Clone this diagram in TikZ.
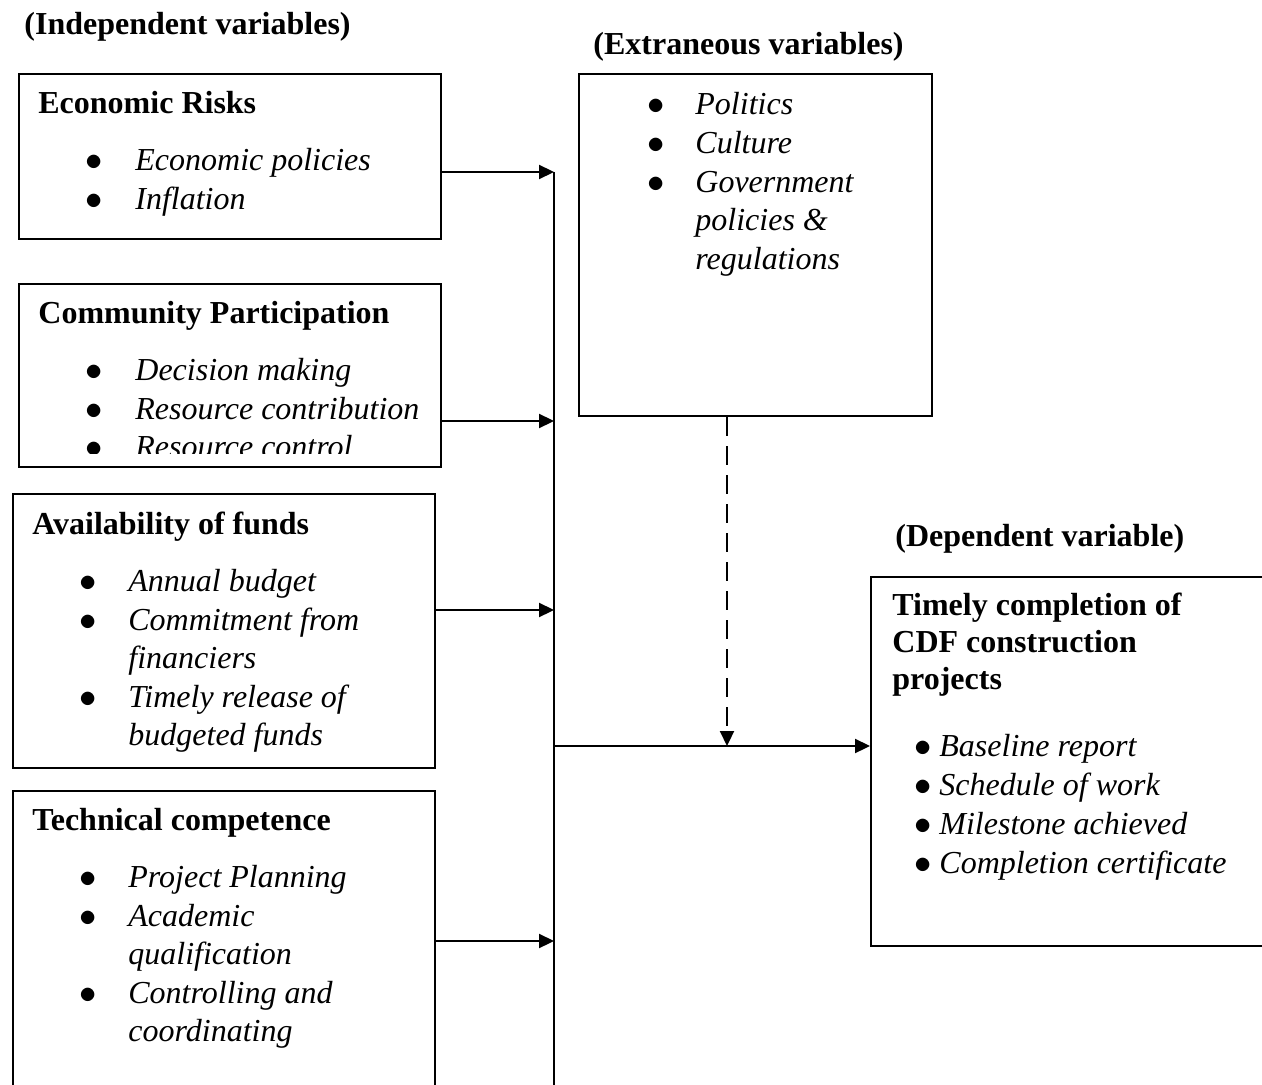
\documentclass[tikz,border=0pt]{standalone}
\usepackage{fontspec}
\setmainfont{Liberation Serif}
\usepackage{tikz}
\usetikzlibrary{arrows.meta,positioning}

\newcommand{\bul}[1][25pt]{\makebox[#1][l]{$\bullet$}}
\newcommand{\gap}[1][25pt]{\hspace*{#1}}

\begin{document}
\begin{tikzpicture}[x=0.5pt, y=-0.5pt,
  box/.style={draw, line width=1pt, inner sep=0, anchor=north west},
  head/.style={font=\fontsize{16}{19}\selectfont\bfseries, inner sep=0, anchor=base west},
  body/.style={font=\fontsize{16}{19.3}\selectfont\itshape, align=left, inner sep=0, anchor=north west},
  wire/.style={line width=1.1pt},
  link/.style={line width=1.1pt, -{Triangle[length=7.5pt,width=7pt]}}]
  \useasboundingbox (0,0) rectangle (1262,1085);
  \clip (0,0) rectangle (1262,1085);

  \node[head] (indlab) at (24,35) {(Independent variables)};
  \node[head] (extlab) at (593,55) {(Extraneous variables)};
  \node[head] (deplab) at (895,546) {(Dependent variable)};

  \node[box, minimum width=211pt, minimum height=82.5pt] (econ) at (18,73) {};
  \node[box, minimum width=211pt, minimum height=91.5pt] (comm) at (18,283) {};
  \node[box, minimum width=211pt, minimum height=137pt] (funds) at (12,493) {};
  \node[box, minimum width=211pt, minimum height=160pt] (tech) at (12,790) {};
  \node[box, minimum width=176.5pt, minimum height=171pt] (extr) at (578,73) {};
  \node[box, minimum width=210pt, minimum height=184.5pt] (dep) at (870,576) {};

  \node[head] (econtitle) at (38,114) {Economic Risks};
  \node[body] (econbody) at (85,143) {\strut\bul Economic policies\\ \bul Inflation};

  \node[head] (commtitle) at (38,323) {Community Participation};
  \begin{scope}
    \clip (comm.north west) rectangle ([yshift=7.5pt]comm.south east);
    \node[body] (commbody) at (85,353) {\strut\bul Decision making\\ \bul Resource contribution\\ \bul Resource control};
  \end{scope}

  \node[head] (fundstitle) at (32,534) {Availability of funds};
  \node[body] (fundsbody) at (79,564) {\strut\bul[24.5pt]Annual budget\\ \bul[24.5pt]Commitment from\\ \gap[24.5pt]financiers\\ \bul[24.5pt]Timely release of\\ \gap[24.5pt]budgeted funds};

  \node[head] (techtitle) at (32,830) {Technical competence};
  \node[body] (techbody) at (79,860) {\strut\bul[24.5pt]Project Planning\\ \bul[24.5pt]Academic\\ \gap[24.5pt]qualification\\ \bul[24.5pt]Controlling and\\ \gap[24.5pt]coordinating};

  \node[body] (extrbody) at (647,87.5) {\strut\bul[24pt]Politics\\ \bul[24pt]Culture\\ \bul[24pt]Government\\ \gap[24pt]policies \&\\ \gap[24pt]regulations};

  \node[body, font=\fontsize{16}{18.5}\selectfont\bfseries] (deptitle) at (892,589.4) {\strut Timely completion of\\ CDF construction\\ projects};
  \node[body, font=\fontsize{16}{19.5}\selectfont\itshape] (depbody) at (914,728.7) {\strut\bul[12.5pt]Baseline report\\ \bul[12.5pt]Schedule of work\\ \bul[12.5pt]Milestone achieved\\ \bul[12.5pt]Completion certificate};

  % joining line and arrows
  \coordinate (j1) at (554,172);
  \coordinate (j2) at (554,421);
  \coordinate (j3) at (554,610);
  \coordinate (j4) at (554,941);
  \coordinate (busend) at (554,1100);
  \coordinate (hub) at (554,746);
  \coordinate (drop) at (727,746);

  \draw[wire] (j1) -- (busend);
  \draw[link] (econ.east |- j1) -- (j1);
  \draw[link] (comm.east |- j2) -- (j2);
  \draw[link] (funds.east |- j3) -- (j3);
  \draw[link] (tech.east |- j4) -- (j4);
  \draw[link] (hub) -- (hub -| dep.west);
  \draw[link, dash pattern=on 9.5pt off 5pt] (drop |- extr.south) -- (drop);
\end{tikzpicture}
\end{document}
